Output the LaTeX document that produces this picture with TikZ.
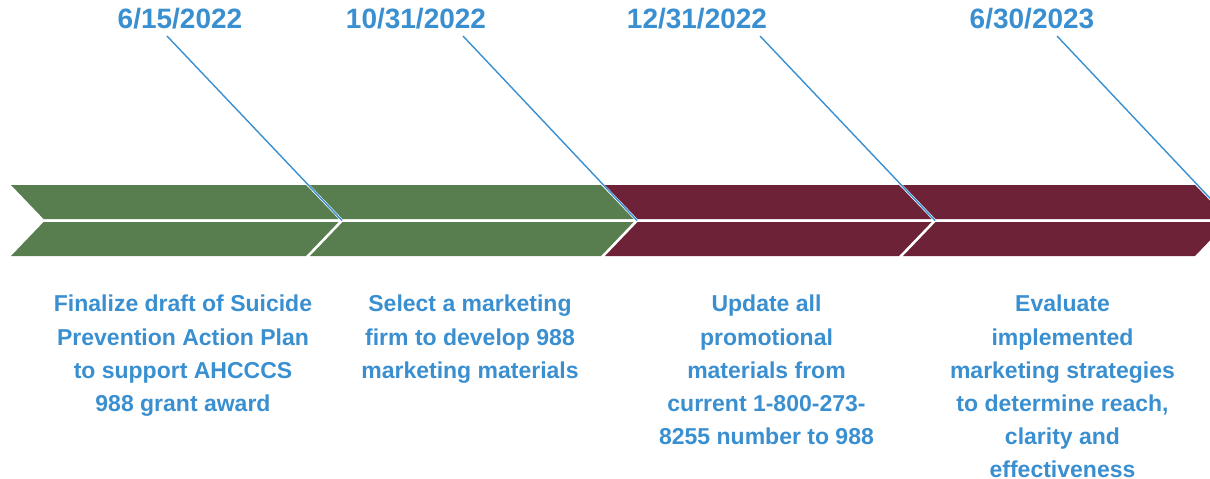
\documentclass[tikz,border=0pt]{standalone}
\usepackage{fontspec}
\setmainfont{Liberation Sans}
\definecolor{dateblue}{RGB}{58,143,208}
\definecolor{leafgreen}{RGB}{88,125,79}
\definecolor{wine}{RGB}{109,34,56}

% one arrow segment: notch x, tip x, colour
\newcommand{\chevronband}[3]{%
  \fill[#3] (#1-34,185) -- (#2-34,185) -- (#2-1.4,219) -- (#1-1.4,219) -- cycle;
  \fill[#3] (#1-1.4,222) -- (#2-1.4,222) -- (#2-34,256) -- (#1-34,256) -- cycle;}

\tikzset{
  datelabel/.style={font=\fontsize{28}{30}\selectfont\bfseries, text=dateblue, inner sep=0pt, anchor=base},
  tasklabel/.style={font=\fontsize{23}{33.2}\selectfont\bfseries, text=dateblue, inner sep=0pt, anchor=north, align=center},
  pointer/.style={dateblue, line width=1.4pt},
}

\begin{document}
\begin{tikzpicture}[x=1pt,y=-1pt]
\useasboundingbox (0,0) rectangle (1210,479);
\clip (0,0) rectangle (1210,479);

 \node[datelabel] (d1) at (180,28) {6/15/2022};
 \node[datelabel] (d2) at (416,28) {10/31/2022};
 \node[datelabel] (d3) at (697,28) {12/31/2022};
 \node[datelabel] (d4) at (1032,28) {6/30/2023};

 \coordinate (t1) at (342,220.5);
 \coordinate (t2) at (637,220.5);
 \coordinate (t3) at (935,220.5);
 \coordinate (t4) at (1231,220.5);

 \draw[pointer] ([xshift=-13pt,yshift=-8pt]d1.base) -- (t1);
 \draw[pointer] ([xshift=47pt,yshift=-8pt]d2.base) -- (t2);
 \draw[pointer] ([xshift=63pt,yshift=-8pt]d3.base) -- (t3);
 \draw[pointer] ([xshift=25pt,yshift=-8pt]d4.base) -- (t4);

 \chevronband{45}{340}{leafgreen}
 \chevronband{344}{635}{leafgreen}
 \chevronband{639}{933}{wine}
 \chevronband{937}{1229}{wine}

 \node[tasklabel] (a1) at (183,295) {Finalize draft of Suicide\\Prevention Action Plan\\to support AHCCCS\\988 grant award};
 \node[tasklabel] (a2) at (470,295) {Select a marketing\\firm to develop 988\\marketing materials};
 \node[tasklabel] (a3) at (766.5,295) {Update all\\promotional\\materials from\\current 1-800-273-\\8255 number to 988};
 \node[tasklabel] (a4) at (1062.5,295) {Evaluate\\implemented\\marketing strategies\\to determine reach,\\clarity and\\effectiveness};
\end{tikzpicture}
\end{document}
